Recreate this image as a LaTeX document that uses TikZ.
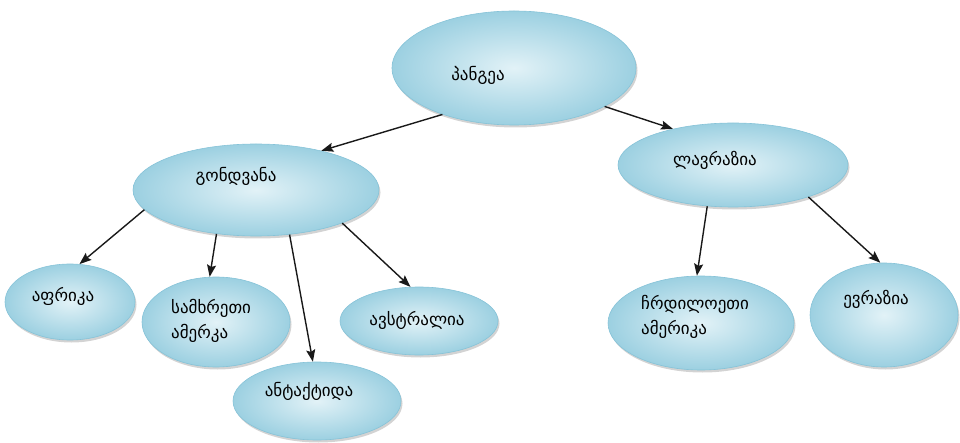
\documentclass[tikz,border=0pt]{standalone}
\usepackage{fontspec}
\newfontfamily\geofont{DejaVu Sans}
\usetikzlibrary{shapes.geometric,arrows.meta,positioning,shadows}

\definecolor{blobin}{HTML}{E2F2F7}
\definecolor{blobout}{HTML}{9CD0E1}
\definecolor{blobline}{HTML}{86C3D8}

\begin{document}
\begin{tikzpicture}[
    x=1pt, y=-1pt,
    blob/.style={ellipse, draw=blobline, line width=0.6pt, inner color=blobin, outer color=blobout,
        drop shadow={shadow xshift=1.5pt, shadow yshift=-2.5pt, opacity=0.35}},
    txt/.style={font=\geofont\fontsize{17}{25}\selectfont, inner sep=0pt, align=left},
    arrow/.style={-{Stealth[length=12pt,width=9pt,inset=2pt]}, line width=1.4pt, black!90},
]
\useasboundingbox (0,0) rectangle (960,443);

% Top level
\node[blob, minimum width=244pt, minimum height=114pt] (pangea) at (514,68) {};
\node[txt] (tpangea) at (478,75) {პანგეა};

% Second level
\node[blob, minimum width=246pt, minimum height=92pt] (gondvana) at (256,190) {};
\node[txt] (tgondvana) at (236,176) {გონდვანა};
\node[blob, minimum width=230pt, minimum height=84pt] (lavrazia) at (733,165) {};
\node[txt] (tlavrazia) at (715,160) {ლავრაზია};

% Continents
\node[blob, minimum width=130pt, minimum height=76pt] (afrika) at (70,302) {};
\node[txt] (tafrika) at (63,296) {აფრიკა};
\node[blob, minimum width=148pt, minimum height=90pt] (samkhreti) at (216,322) {};
\node[txt, anchor=west] (tsamkhreti) at (171,321) {სამხრეთი\\ამერკა};
\node[blob, minimum width=168pt, minimum height=78pt] (antaqtida) at (317,401) {};
\node[txt] (tantaqtida) at (309,391) {ანტაქტიდა};
\node[blob, minimum width=158pt, minimum height=68pt] (avstralia) at (419,321) {};
\node[txt] (tavstralia) at (417,320) {ავსტრალია};
\node[blob, minimum width=186pt, minimum height=94pt] (chrdiloeti) at (701,323) {};
\node[txt, anchor=west] (tchrdiloeti) at (641,317) {ჩრდილოეთი\\ამერიკა};
\node[blob, minimum width=148pt, minimum height=104pt] (evrazia) at (884,315) {};
\node[txt] (tevrazia) at (876,299) {ევრაზია};

% Arrows
\draw[arrow] (pangea.213) -- (gondvana.31);
\draw[arrow] (pangea.337) -- (lavrazia.149);
\draw[arrow] (gondvana.190) -- (afrika.76);
\draw[arrow] (gondvana.228) -- (samkhreti.98);
\draw[arrow] (gondvana.307) -- (antaqtida.96);
\draw[arrow] (gondvana.339) -- (avstralia.104);
\draw[arrow] (lavrazia.238) -- (chrdiloeti.95);
\draw[arrow] (lavrazia.337) -- (evrazia.94);

\end{tikzpicture}
\end{document}
